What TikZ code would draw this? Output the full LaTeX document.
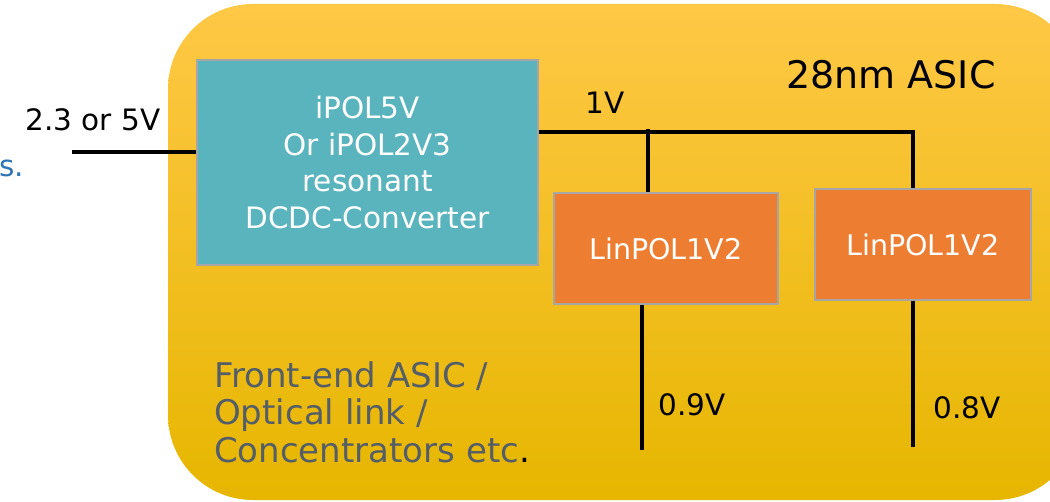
\documentclass[tikz,border=0pt]{standalone}
\usepackage{fontspec}
\setmainfont{DejaVu Sans}
\definecolor{tealbox}{HTML}{5AB4BE}
\definecolor{orangebox}{HTML}{ED7D31}
\definecolor{boxedge}{HTML}{A6A6A6}
\definecolor{bgtop}{HTML}{FFC846}
\definecolor{bgmid}{HTML}{FAC400}
\definecolor{bgbot}{HTML}{E6B600}
\definecolor{greytext}{HTML}{545E68}
\definecolor{bluetext}{HTML}{2E75B6}
\begin{document}
\begin{tikzpicture}[x=1pt,y=-1pt,
  blockbox/.style={draw=boxedge,line width=1.2pt,inner sep=0pt,text=white,align=center},
  wire/.style={line width=4.5pt,black},
  lbl/.style={inner sep=0pt,font=\fontsize{29.5}{34}\selectfont}]
\useasboundingbox (0,0) rectangle (1050,502);
\begin{scope}
\clip (0,0) rectangle (1050,502);
\shade[top color=bgtop,middle color=bgmid,bottom color=bgbot,rounded corners=85pt]
  (168,4) rectangle (1080,500);
\end{scope}
\node[blockbox,fill=tealbox,minimum width=341pt,minimum height=205pt,
  font=\fontsize{29.5}{36.5}\selectfont] (conv) at (367.5,162.5)
  {iPOL5V\\Or iPOL2V3\\resonant\\DCDC-Converter};
\node[blockbox,fill=orangebox,minimum width=224pt,minimum height=111pt,
  font=\fontsize{28.5}{34}\selectfont] (lin1) at (666,248.5) {LinPOL1V2};
\node[blockbox,fill=orangebox,minimum width=216pt,minimum height=111pt,
  font=\fontsize{28.5}{34}\selectfont] (lin2) at (923,244.5) {LinPOL1V2};
\coordinate (in) at (72,152);
\coordinate (j1) at (648,129);
\coordinate (j2) at (913,132);
\coordinate (o1) at (642,450);
\coordinate (o2) at (913,447);
\draw[wire] (in) -- (in -| conv.west);
\draw[wire] (conv.east |- j2) -- ([xshift=2.25pt]j2) ;
\draw[wire] (j2) -- (j2 |- lin2.north);
\draw[wire] (j1) -- (j1 |- lin1.north);
\draw[wire] (o1 |- lin1.south) -- (o1);
\draw[wire] (o2 |- lin2.south) -- (o2);
\node[lbl] (vin) at (93,120) {2.3 or 5V};
\node[lbl,text=bluetext,anchor=west] (s) at (-1,168) {s.};
\node[lbl] (v1) at (605,103) {1V};
\node[lbl] (v09) at (692,405) {0.9V};
\node[lbl] (v08) at (967,408) {0.8V};
\node[inner sep=0pt,font=\fontsize{38}{44}\selectfont] (asic) at (891,75) {28nm ASIC};
\node[inner sep=0pt,anchor=west,align=left,text=greytext,
  font=\fontsize{34}{37.5}\selectfont] (fe) at (214,412)
  {Front-end ASIC /\\Optical link /\\Concentrators etc\textcolor{black}{.}};
\end{tikzpicture}
\end{document}
